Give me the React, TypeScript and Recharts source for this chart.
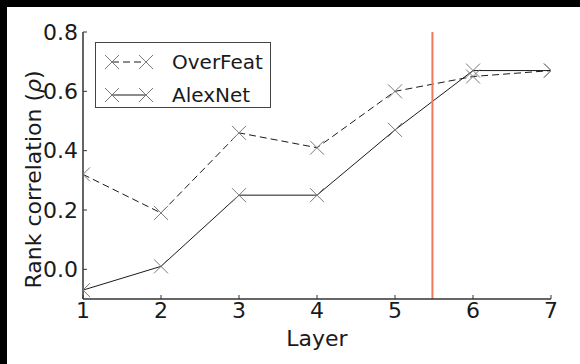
import { LineChart, Line, XAxis, YAxis, ReferenceLine, Legend } from 'recharts'

const layers = [1, 2, 3, 4, 5, 6, 7]
const overFeat = [0.32, 0.19, 0.46, 0.41, 0.6, 0.65, 0.67]
const alexNet = [-0.07, 0.01, 0.25, 0.25, 0.47, 0.67, 0.67]
const seriesNames = ['OverFeat', 'AlexNet']
const yTicks = [0, 0.2, 0.4, 0.6, 0.8]
const yDomain = [-0.1, 0.8]
const cutLayer = 5.48

const data = layers.map((layer, i) => ({ layer, overFeat: overFeat[i], alexNet: alexNet[i] }))

const FONT = '"DejaVu Sans", sans-serif'
const FS = 22
const INK = '#1a1a1a'
const SPINE = '#333'
const MARK = '#7a7a7a'

function crossPath(cx: number, cy: number, s = 7) {
    return `M${cx - s},${cy - s}L${cx + s},${cy + s}M${cx - s},${cy + s}L${cx + s},${cy - s}`
}

const Cross = (props: any) => {
    const { cx, cy } = props
    if (cx == null || cy == null) return <g />
    return <path d={crossPath(cx, cy)} stroke={MARK} strokeWidth={1} fill="none" />
}

const XTitle = (props: any) => {
    const vb = props.viewBox || {}
    return (
        <text x={vb.x + vb.width / 2} y={vb.y + 39} textAnchor="middle" dominantBaseline="central"
            fontSize={FS} fontFamily={FONT} fill={INK}>
            Layer
        </text>
    )
}

const YTitle = (props: any) => {
    const vb = props.viewBox || {}
    const x = 33
    const y = vb.y + vb.height / 2 + 14
    return (
        <text x={x} y={y} transform={`rotate(-90 ${x} ${y})`} textAnchor="middle" dominantBaseline="central"
            fontSize={FS} fontFamily={FONT} fill={INK}>
            Rank correlation (<tspan fontStyle="italic">ρ</tspan>)
        </text>
    )
}

const LegendBox = (props: any) => {
    const payload = [...(props.payload || [])].sort(
        (a: any, b: any) => seriesNames.indexOf(a.value) - seriesNames.indexOf(b.value))
    return (
        <svg width={176} height={66} style={{ display: 'block' }}>
            <rect x={0.5} y={0.5} width={175} height={65} fill="#fff" stroke="#444" />
            {payload.map((p: any, i: number) => {
                const y = 20 + i * 33
                return (
                    <g key={p.value}>
                        <line x1={17} x2={51} y1={y} y2={y} stroke={INK}
                            strokeDasharray={p.payload?.strokeDasharray} />
                        <path d={crossPath(17, y)} stroke={MARK} fill="none" />
                        <path d={crossPath(51, y)} stroke={MARK} fill="none" />
                        <text x={77} y={y} dominantBaseline="central" fontSize={20} fontFamily={FONT} fill={INK}>
                            {p.value}
                        </text>
                    </g>
                )
            })}
        </svg>
    )
}

export default function App() {
    return (
        <div style={{
            position: 'fixed', left: 0, top: 0, width: 580, height: 364, boxSizing: 'border-box',
            background: '#fff', borderTop: '7px solid #000', borderLeft: '7px solid #000',
        }}>
            <div style={{ position: 'absolute', left: -7, top: -7 }}>
                <LineChart width={580} height={364} data={data}
                    margin={{ top: 32, right: 29, bottom: 35, left: 33 }}>
                    <XAxis dataKey="layer" type="number" domain={[1, 7]} ticks={layers} allowDataOverflow
                        height={30} tickSize={-4} tickMargin={7}
                        axisLine={{ stroke: SPINE, strokeWidth: 1.5 }} tickLine={{ stroke: SPINE }}
                        tick={{ fill: INK, fontSize: FS, fontFamily: FONT }}
                        label={{ content: XTitle }} />
                    <XAxis xAxisId="top" orientation="top" dataKey="layer" type="number" domain={[1, 7]}
                        ticks={layers} allowDataOverflow height={0} tickSize={-4} tick={false}
                        axisLine={{ stroke: SPINE, strokeWidth: 1.5 }} tickLine={{ stroke: SPINE }} />
                    <YAxis type="number" domain={yDomain} ticks={yTicks} allowDataOverflow
                        width={50} tickSize={-4} tickMargin={9}
                        tickFormatter={(v: number) => v.toFixed(1)}
                        axisLine={{ stroke: SPINE, strokeWidth: 1.5 }} tickLine={{ stroke: SPINE }}
                        tick={{ fill: INK, fontSize: FS, fontFamily: FONT }}
                        label={{ content: YTitle }} />
                    <YAxis yAxisId="right" orientation="right" type="number" domain={yDomain} ticks={yTicks}
                        allowDataOverflow width={0} tickSize={-4} tick={false}
                        axisLine={{ stroke: '#999', strokeWidth: 1.5 }} tickLine={{ stroke: '#999' }} />
                    <Legend layout="vertical" verticalAlign="middle" align="center"
                        wrapperStyle={{ left: 95, top: 42, width: 176, height: 66 }}
                        content={LegendBox} />
                    <Line dataKey="overFeat" name={seriesNames[0]} stroke={INK} strokeWidth={1}
                        strokeDasharray="7 4" dot={Cross} activeDot={false} isAnimationActive={false} />
                    <Line dataKey="alexNet" name={seriesNames[1]} stroke={INK} strokeWidth={1}
                        dot={Cross} activeDot={false} isAnimationActive={false} />
                    <ReferenceLine x={cutLayer} stroke="#ef7a5c" strokeWidth={2} />
                </LineChart>
            </div>
        </div>
    )
}
